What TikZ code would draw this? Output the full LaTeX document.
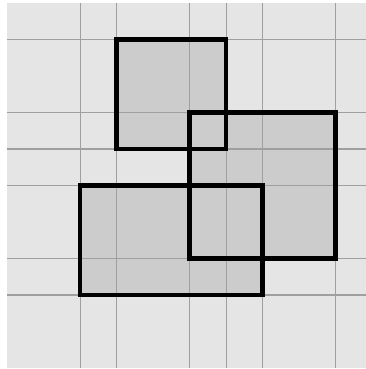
\documentclass[tikz,border=0pt]{standalone}
\usepackage{tikz}
\usetikzlibrary{positioning}

\begin{document}
\begin{tikzpicture}
                \tikzstyle{grid line}=[gray!75, line width=0.8pt]
                \tikzstyle{box}=[black, line width=3.4pt]
                \useasboundingbox (-0.192,-0.027) rectangle (9.808,10.082);
                \fill [gray!20] (0,0) rectangle (10,10);
                \fill [gray!40] (3,6) rectangle (6,9);
                \fill [gray!40] (5,3) rectangle (9,7);
                \fill [gray!40] (2,2) rectangle (7,5);
                \foreach \x in {2,3,5,6,7,9}
                    \draw [grid line] (\x,0) -- (\x,10);
                \foreach \y in {2,3,5,6,7,9}
                    \draw [grid line] (0,\y) -- (10,\y);
                \draw [box] (3,6) rectangle (6,9);
                \draw [box] (5,3) rectangle (9,7);
                \draw [box] (2,2) rectangle (7,5);
            \end{tikzpicture}
\end{document}
